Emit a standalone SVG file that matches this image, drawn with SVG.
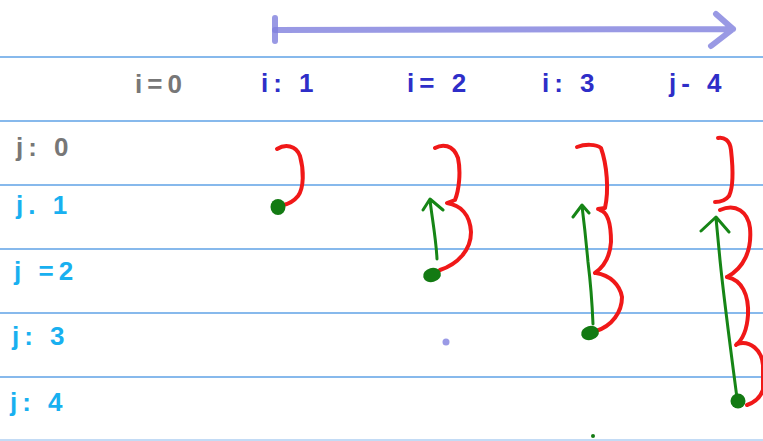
<svg xmlns="http://www.w3.org/2000/svg" width="763" height="441" viewBox="0 0 763 441">
<style>
.rule{stroke:#5fa2e6;stroke-width:1.5;fill:none}
.axis{stroke:#8080dd;stroke-opacity:0.8;stroke-width:6;fill:none;stroke-linecap:round;stroke-linejoin:round}
.red{stroke:#f01818;stroke-width:4;fill:none;stroke-linecap:round;stroke-linejoin:round}
.grn{stroke:#168516;stroke-width:3;fill:none;stroke-linecap:round;stroke-linejoin:round}
.dot{fill:#137a13}
.lbl{font-family:"Liberation Sans",Arial,sans-serif;font-size:26px;font-weight:bold;letter-spacing:5px}
.gray{fill:#777777}
.blue{fill:#2e2ec8}
.cyan{fill:#18b0f0}
</style>
<rect width="763" height="441" fill="#ffffff"/>
<g id="rules">
<line class="rule" x1="0" y1="57" x2="763" y2="57"/>
<line class="rule" x1="0" y1="121" x2="763" y2="121"/>
<line class="rule" x1="0" y1="185" x2="763" y2="185"/>
<line class="rule" x1="0" y1="249" x2="763" y2="249"/>
<line class="rule" x1="0" y1="313" x2="763" y2="313"/>
<line class="rule" x1="0" y1="377" x2="763" y2="377"/>
<line class="rule" x1="0" y1="440" x2="763" y2="440" stroke-opacity="0.5"/>
</g>
<g id="axis">
<line class="axis" x1="275" y1="18" x2="275" y2="41"/>
<path class="axis" d="M275 30 L733 29 M716 14 L733 29 L711 46"/>
</g>
<g id="col-labels">
<text class="lbl gray" x="135" y="93">i=0</text>
<text class="lbl blue" x="261" y="92">i: 1</text>
<text class="lbl blue" x="407" y="92">i= 2</text>
<text class="lbl blue" x="542" y="92">i: 3</text>
<text class="lbl blue" x="669" y="92">j- 4</text>
</g>
<g id="row-labels">
<text class="lbl gray" x="16" y="156">j: 0</text>
<text class="lbl cyan" x="16" y="214">j. 1</text>
<text class="lbl cyan" x="14" y="280">j =2</text>
<text class="lbl cyan" x="12" y="345">j: 3</text>
<text class="lbl cyan" x="10" y="411">j: 4</text>
</g>
<g id="connectors">
<path class="red" d="M277 149 C285 144 296 145 300 156 C304 170 304 188 298 196 C294 201 288 204 283 205"/>
<path class="red" d="M435 148 C442 144 453 144 458 158 C461 172 459 190 455 200 L447 203 C460 205 470 214 471 232 C471 250 458 264 440 270"/>
<path class="grn" d="M437 259 C436 238 432 218 430 200 M423 210 L430 199 L443 210"/>
<path class="red" d="M577 147 C585 144 596 144 601 148 C607 165 609 190 605 208 L598 209"/>
<path class="red" d="M600 210 C608 212 611 225 611 242 C610 258 602 268 595 273"/>
<path class="red" d="M596 273 C610 275 620 285 622 297 C622 312 612 326 596 331"/>
<path class="grn" d="M593 324 C592 300 590 278 588 262 C586 240 584 222 582 206 M573 217 L582 205 L589 213"/>
<path class="red" d="M718 138 C724 137 730 140 731 150 C733 168 734 186 729 196 C725 201 719 202 715 202"/>
<path class="red" d="M720 210 C736 203 748 212 750 228 C752 250 744 268 727 277"/>
<path class="red" d="M727 277 C742 280 749 295 748 315 C747 330 742 340 736 345"/>
<path class="red" d="M737 344 C750 340 762 350 763 365 L763 390 C760 398 753 403 747 405"/>
<path class="grn" d="M737 398 C732 360 724 300 720 260 C718 240 717 228 716 218 M701 231 L716 217 L729 232"/>
</g>
<g id="dots">
<ellipse class="dot" cx="278" cy="207" rx="7.5" ry="8"/>
<ellipse class="dot" cx="432" cy="275" rx="9" ry="7" transform="rotate(-15 432 275)"/>
<ellipse class="dot" cx="590" cy="333" rx="9" ry="7" transform="rotate(-15 590 333)"/>
<ellipse class="dot" cx="738" cy="401" rx="7.5" ry="7.5"/>
<circle cx="593" cy="436" r="2" fill="#137a13"/>
<circle cx="446" cy="342" r="3.5" fill="#9a9ae6"/>
</g>
</svg>
